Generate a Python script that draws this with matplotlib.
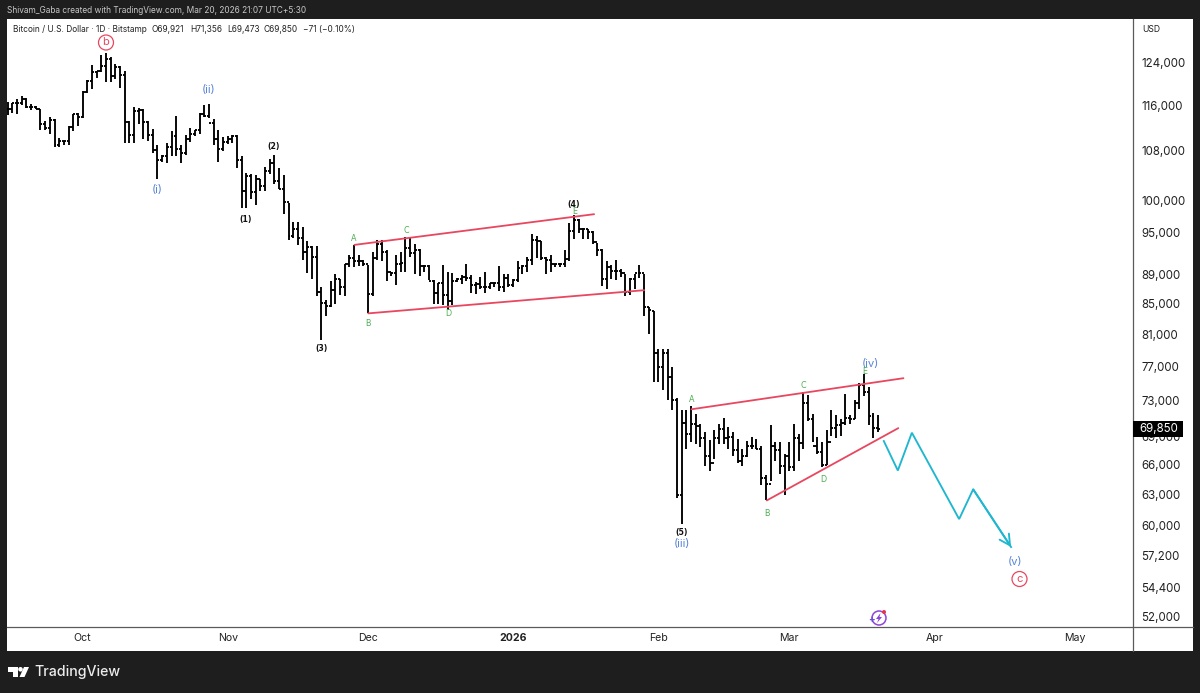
#!/usr/bin/env python3
"""Bitcoin / U.S. Dollar daily bars with Elliott wave counts, TradingView style."""

import matplotlib
matplotlib.use("Agg")
import matplotlib.pyplot as plt
import numpy as np
from matplotlib.lines import Line2D
from matplotlib.patches import Ellipse, Polygon, Rectangle

plt.rcParams["font.family"] = ["Inter", "DejaVu Sans"]

W, H = 1200, 693
DARK = "#1e1e1e"
RED = "#e8475f"
CYAN = "#1fb6d0"
BLUE = "#5b86dc"
GREEN = "#4caf50"

# daily bars, first one is Sep 15 2025, last one Mar 20 2026
OPENS = [
    115300, 115400, 116400, 116500, 117100, 115700, 115700, 115400, 112700, 112000,
    113300, 109000, 109700, 109700, 112100, 114400, 114000, 118500, 120600, 122300,
    122400, 123500, 124700, 121400, 123300, 121700, 113000, 110800, 115000, 115200,
    113100, 110700, 108200, 106500, 107200, 108700, 110500, 108400, 107600, 110000,
    111000, 111600, 114500, 114100, 112900, 110000, 108300, 109600, 110100, 110600,
    106500, 101500, 103900, 101300, 103400, 102300, 104700, 106000, 103000, 101700,
    99700, 94500, 95600, 94200, 92200, 92900, 91500, 86600, 85100, 84700,
    86800, 88300, 87300, 90500, 91300, 90900, 90800, 90400, 86300, 91300,
    93400, 92100, 89300, 89200, 90400, 90600, 92700, 92000, 92500, 90200,
    90200, 88100, 86400, 87800, 86100, 85400, 88100, 88300, 88600, 88500,
    87500, 87600, 87200, 87300, 87800, 87800, 87200, 88500, 87500, 88200,
    89900, 90200, 91000, 93900, 93700, 91300, 91000, 90500, 90400, 90500,
    91200, 95300, 96900, 95600, 95500, 95100, 93600, 92500, 88300, 90000,
    89500, 89500, 89200, 86600, 88300, 89200, 89200, 84500, 84000, 78600,
    76900, 78700, 75800, 73000, 62900, 70500, 69300, 70400, 70100, 68800,
    66900, 66200, 68800, 69800, 68800, 68900, 67500, 66400, 66900, 68000,
    68000, 67600, 64600, 64000, 68000, 67500, 65900, 66900, 65800, 68800,
    68300, 72700, 70900, 68000, 67300, 66000, 68400, 69900, 70200, 70500,
    71000, 70900, 72700, 74800, 74000, 71200, 69921,
]
HIGHS = [
    116600, 116500, 117100, 117800, 117400, 116200, 115900, 115400, 113200, 114000,
    113500, 110300, 109700, 112300, 114400, 114700, 118600, 120700, 123700, 122500,
    125500, 126000, 125100, 123900, 123400, 122500, 113200, 115800, 115600, 115300,
    113200, 111800, 109000, 107400, 109400, 111400, 114100, 109000, 110700, 112000,
    111700, 114700, 116000, 116200, 113500, 111600, 110400, 110600, 110700, 110800,
    107200, 104400, 104200, 104000, 103300, 105300, 106600, 107400, 105200, 104000,
    99600, 96600, 96600, 95800, 93700, 93000, 93000, 87300, 85500, 88000,
    89100, 88300, 90500, 91700, 93200, 91700, 91000, 90300, 92200, 93900,
    93900, 92500, 89300, 91700, 92200, 94400, 94300, 93400, 92600, 90300,
    90300, 88200, 87800, 90300, 89300, 89200, 88500, 88900, 90500, 88900,
    87900, 88600, 89300, 87800, 87800, 90100, 89100, 89000, 88300, 90800,
    90300, 91500, 94800, 94500, 93800, 91500, 91800, 90500, 90600, 92400,
    96400, 97600, 97000, 95700, 95500, 95300, 93500, 92600, 90800, 90300,
    91000, 89700, 89100, 88500, 89000, 90300, 89100, 84500, 84000, 79200,
    79100, 79100, 76900, 73300, 71900, 71900, 72400, 71500, 70400, 69500,
    68600, 69700, 70400, 71000, 70000, 69500, 68700, 67700, 68500, 68900,
    68700, 68000, 64900, 70200, 68400, 68400, 67100, 68400, 70300, 69300,
    74000, 73600, 71500, 68900, 68400, 69700, 71900, 71400, 70900, 73800,
    71400, 73100, 75000, 76100, 74600, 71600, 71356,
]
LOWS = [
    114200, 114600, 114400, 116000, 115600, 115200, 115300, 111700, 111700, 111000,
    108600, 108600, 109000, 109000, 111400, 112400, 113800, 118300, 119000, 121200,
    122300, 120400, 120400, 120900, 119300, 109400, 109400, 109400, 112600, 110000,
    109700, 107600, 103300, 106100, 106000, 107200, 107200, 106000, 107400, 109500,
    110600, 111000, 114000, 113700, 109000, 106100, 108000, 109200, 109400, 105200,
    98800, 98800, 100200, 99200, 101400, 101400, 104200, 102500, 101800, 97800,
    93900, 94200, 93200, 91000, 89200, 88300, 86000, 80300, 83400, 84600,
    85000, 86100, 86000, 90000, 90000, 90100, 90100, 83700, 86000, 91000,
    90800, 88000, 88700, 87500, 89300, 89300, 91400, 89100, 88700, 89300,
    88200, 85000, 85000, 84800, 84200, 84800, 87900, 87600, 88000, 86400,
    86300, 87000, 86400, 87000, 87200, 86700, 86500, 87200, 87200, 87900,
    89100, 89300, 90300, 91300, 91000, 89100, 89300, 90000, 90000, 90000,
    90800, 94000, 95000, 94000, 94000, 93400, 91600, 87400, 87000, 88300,
    88200, 88600, 86000, 86200, 87000, 88500, 83300, 81000, 75100, 75100,
    74200, 73000, 71900, 62600, 60100, 67600, 68400, 68200, 67900, 65900,
    65400, 66600, 68200, 68200, 67600, 66900, 66200, 65900, 66800, 67700,
    67600, 63900, 62400, 64300, 66400, 65000, 62900, 65300, 65400, 66400,
    67600, 70700, 68400, 67100, 65800, 66000, 69000, 68800, 69000, 70200,
    70400, 70900, 72000, 73500, 70200, 68800, 69473,
]
CLOSES = [
    115400, 116400, 116500, 117100, 115700, 115700, 115400, 112700, 112000, 113300,
    109000, 109700, 109700, 112100, 114400, 114000, 118500, 120600, 122300, 122400,
    123500, 124700, 121400, 123300, 121700, 113000, 110800, 115000, 115200, 113100,
    110700, 108200, 106500, 107200, 108700, 110500, 108400, 107600, 110000, 111000,
    111600, 114500, 114100, 112900, 110000, 108300, 109600, 110100, 110600, 106500,
    101500, 103900, 101300, 103400, 102300, 104700, 106000, 103000, 101700, 99700,
    94500, 95600, 94200, 92200, 92900, 91500, 86600, 85100, 84700, 86800,
    88300, 87300, 90500, 91300, 90900, 90800, 90400, 86300, 91300, 93400,
    92100, 89300, 89200, 90400, 90600, 92700, 92000, 92500, 90200, 90200,
    88100, 86400, 87800, 86100, 85400, 88100, 88300, 88600, 88500, 87500,
    87600, 87200, 87300, 87800, 87800, 87200, 88500, 87500, 88200, 89900,
    90200, 91000, 93900, 93700, 91300, 91000, 90500, 90400, 90500, 91200,
    95300, 96900, 95600, 95500, 95100, 93600, 92500, 88300, 90000, 89500,
    89500, 89200, 86600, 88300, 89200, 89200, 84600, 84100, 78600, 76900,
    78700, 75800, 73000, 62900, 70500, 69300, 70400, 70100, 68800, 66900,
    66200, 68800, 69800, 68800, 68900, 67500, 66400, 66900, 68000, 68000,
    67600, 64600, 64000, 68000, 67500, 65900, 66900, 65800, 68800, 68300,
    72700, 70900, 68000, 67300, 66000, 68400, 69900, 70200, 70500, 71000,
    70900, 72700, 74800, 74000, 71200, 69900, 69850,
]

PRICE_TICKS = [124000, 116000, 108000, 100000, 95000, 89000, 85000, 81000, 77000,
               73000, 69000, 66000, 63000, 60000, 57200, 54400, 52000]
MONTH_DAYS = [16, 47, 77, 108, 139, 167, 198, 228]
MONTH_LABELS = ["Oct", "Nov", "Dec", "2026", "Feb", "Mar", "Apr", "May"]

# drawn trend lines, (day, price) at both ends
CHANNEL_UP_TOP = ([74.1, 125.3], [93200, 97800])
CHANNEL_UP_BOT = ([77.05, 136.0], [83700, 86800])
WEDGE_TOP = ([146.1, 191.4], [72000, 75600])
WEDGE_BOT = ([162.2, 190.3], [62400, 69900])
# projected path
PATH_DAYS = [187.2, 190.2, 193.2, 203.3, 206.3, 214.4]
PATH_PRICES = [68500, 65400, 69400, 60600, 63500, 58000]


def fx(px):
    return px / W


def fy(py):
    return 1 - py / H


def label(px, py, s, color, size, **kw):
    fig.text(fx(px), fy(py), s, color=color, fontsize=size, ha=kw.pop("ha", "center"),
             va="center", zorder=6, **kw)


def ring(px, py, s, r=7.5):
    fig.add_artist(Ellipse((fx(px), fy(py)), 2 * r / W, 2 * r / H, fill=False,
                           ec=RED, lw=0.9, transform=fig.transFigure, zorder=6))
    label(px, py - 0.5, s, RED, 8)


fig = plt.figure(figsize=(W / 100, H / 100), dpi=100, facecolor=DARK)
fig.add_artist(Rectangle((fx(7), fy(651)), fx(1186), 632 / H, fc="white", ec="none",
                         transform=fig.transFigure, zorder=-1))

ax = fig.add_axes([fx(7), fy(626.7), fx(1126), 608.2 / H])
ax.set_yscale("log")
ax.set_xlim(-0.15, 240.45)
ax.set_ylim(51180, 132970)

days = np.arange(len(CLOSES))
tick = 0.42
bar_style = {"color": "black", "lw": 1.35, "capstyle": "butt"}
ax.vlines(days, LOWS, HIGHS, **bar_style)
ax.hlines(OPENS, days - tick, days, **bar_style)
ax.hlines(CLOSES, days, days + tick, **bar_style)

for xs, ys in (CHANNEL_UP_TOP, CHANNEL_UP_BOT, WEDGE_TOP, WEDGE_BOT):
    ax.plot(xs, ys, color=RED, lw=1.3, solid_capstyle="round")
ax.plot(PATH_DAYS, PATH_PRICES, color=CYAN, lw=1.35, solid_joinstyle="miter")
ax.annotate("", xy=(PATH_DAYS[-1], PATH_PRICES[-1]), xytext=(PATH_DAYS[-2], PATH_PRICES[-2]),
            arrowprops=dict(arrowstyle="->,head_length=0.75,head_width=0.4", color=CYAN,
                            lw=1.35, shrinkA=0, shrinkB=0))

for side in ("top", "left", "right", "bottom"):
    ax.spines[side].set_visible(False)
ax.yaxis.tick_right()
ax.set_yticks(PRICE_TICKS, [f"{p:,}" for p in PRICE_TICKS])
ax.set_yticks([], minor=True)
ax.set_xticks(MONTH_DAYS, MONTH_LABELS)
ax.tick_params(axis="y", length=0, pad=5.8, labelsize=8.3, labelcolor="#222222")
ax.tick_params(axis="x", length=0, pad=4.2, labelsize=7.6, labelcolor="#222222")
ax.get_xticklabels()[3].set_fontweight("bold")

# pane separators
fig.add_artist(Line2D([fx(1133), fx(1133)], [fy(651), fy(18.5)], color="#5a5a5a", lw=0.9, zorder=5))
fig.add_artist(Line2D([fx(7), fx(1193)], [fy(626.7), fy(626.7)], color="#5a5a5a", lw=0.9, zorder=5))

# header text
label(7, 10.5, "Shivam_Gaba created with TradingView.com, Mar 20, 2026 21:07 UTC+5:30",
      "#c8c8c8", 6.0, ha="left")
label(13, 29.5, "Bitcoin / U.S. Dollar · 1D · Bitstamp", "#222222", 6.0, ha="left")
label(152, 29.5, "O69,921", "#222222", 6.0, ha="left")
label(190, 29.5, "H71,356", "#222222", 6.0, ha="left")
label(227, 29.5, "L69,473", "#222222", 6.0, ha="left")
label(264, 29.5, "C69,850", "#222222", 6.0, ha="left")
label(303, 29.5, "−71 (−0.10%)", "#222222", 6.0, ha="left")
label(1151, 30, "USD", "#222222", 6.2)

# last price tag, drawn over the 69,000 tick label like the reference
fig.add_artist(Rectangle((fx(1133), fy(437)), 50 / W, 16 / H, fc="black", ec="none",
                         transform=fig.transFigure, zorder=5))
label(1159, 429, "69,850", "white", 8.3)

# wave counts
ring(106, 42.5, "b")
ring(1019.5, 579, "c")
for px, py, s in [(157, 190, "(i)"), (209, 90, "(ii)"), (682, 544, "(iii)"),
                  (870, 364, "(iv)"), (1015, 561.5, "(v)")]:
    label(px, py, s, BLUE, 8.2)
for px, py, s in [(246, 219, "(1)"), (274, 146.5, "(2)"), (321, 348, "(3)"),
                  (574, 204, "(4)"), (682, 533, "(5)")]:
    label(px, py, s, "#111111", 5.6, family="DejaVu Sans", fontweight="bold")
for px, py, s in [(354, 238.5, "A"), (368, 323, "B"), (406, 231, "C"), (448, 313, "D"),
                  (574.5, 212, "E"), (691.5, 399, "A"), (767, 514, "B"), (803.5, 385, "C"),
                  (823, 479, "D"), (865, 372, "E")]:
    label(px, py, s, GREEN, 5.8, family="DejaVu Sans")


# footer logo
def logo_poly(points, color="white", z=6):
    pts = [(fx(a), fy(b)) for a, b in points]
    fig.add_artist(Polygon(pts, closed=True, fc=color, ec="none", transform=fig.transFigure, zorder=z))


logo_poly([(8, 667), (17.5, 667), (17.5, 677), (13, 677), (13, 671.5), (8, 671.5)])
fig.add_artist(Ellipse((fx(20.5), fy(669.3)), 4.6 / W, 4.6 / H, fc="white", ec="none",
                       transform=fig.transFigure, zorder=6))
logo_poly([(24, 667), (29, 667), (24.5, 677), (19.5, 677)])
label(34, 672, "TradingView", "#ececec", 10.2, ha="left", fontweight="medium")

# purple event badge near the time axis
fig.add_artist(Ellipse((fx(879), fy(618)), 14 / W, 14 / H, fill=False, ec="#8e44d8", lw=1.1,
                       transform=fig.transFigure, zorder=6))
logo_poly([(880.5, 613), (876, 619), (878.5, 619), (877, 623), (882, 617), (879.5, 617)], "#8e44d8")
label(871.5, 620.5, "+", "#6a4fd8", 7, fontweight="bold")
fig.add_artist(Ellipse((fx(884), fy(612)), 4 / W, 4 / H, fc="#e8344a", ec="none",
                       transform=fig.transFigure, zorder=7))

fig.savefig("out.png", dpi=100, facecolor=DARK)
